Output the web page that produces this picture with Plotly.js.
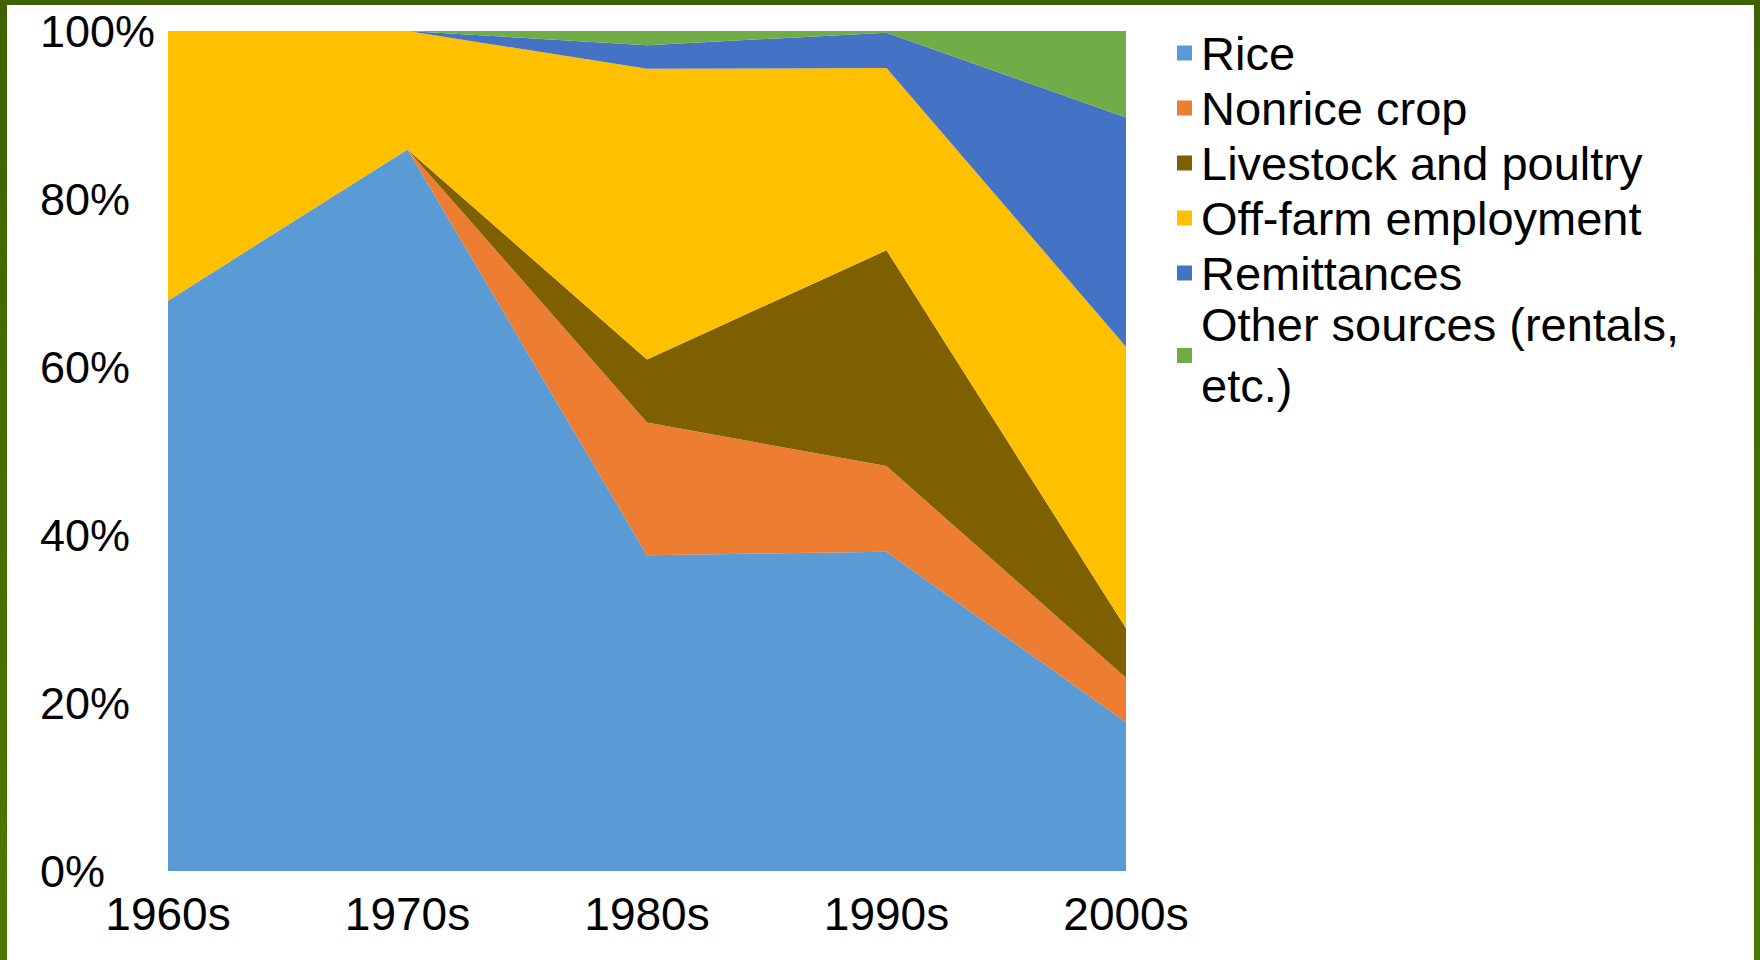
<!DOCTYPE html>
<html>
<head>
<meta charset="utf-8">
<script src="https://cdn.plot.ly/plotly-3.0.1.min.js"></script>
<style>
  html, body { margin: 0; padding: 0; background: #ffffff; overflow: hidden; }
  #wrap { position: relative; width: 1760px; height: 960px; }
  #chart { position: absolute; left: 0; top: 0; width: 1760px; height: 960px; }
  .frame { position: absolute; pointer-events: none; }
  #frameTop { left: 0; top: 0; width: 1760px; height: 5px; background: #3f6300; }
  #frameLeft { left: 0; top: 0; width: 7px; height: 960px; background: linear-gradient(#3f6300, #4d7800); }
  #frameRight { right: 0; top: 0; width: 6px; height: 960px; background: linear-gradient(#3f6300, #4d7800); }
</style>
</head>
<body>
<div id="wrap">
  <div id="chart"></div>
  <div class="frame" id="frameTop"></div>
  <div class="frame" id="frameLeft"></div>
  <div class="frame" id="frameRight"></div>
</div>
<script>
// Share of household income by source, per decade (percent)
const decades = ['1960s', '1970s', '1980s', '1990s', '2000s'];
const rice        = [67.9, 85.9, 37.6, 38.0, 17.7];
const nonrice     = [0.0,  0.0,  15.8, 10.2, 5.3];
const livestock   = [0.0,  0.0,  7.5,  25.7, 5.9];
const offFarm     = [32.1, 14.1, 34.6, 21.7, 33.5];
const remittances = [0.0,  0.0,  2.8,  4.2,  27.3];
const other       = [0.0,  0.0,  1.7,  0.2,  10.3];

const seriesNames = ['Rice', 'Nonrice crop', 'Livestock and poultry', 'Off-farm employment',
                     'Remittances', 'Other sources (rentals,<br>etc.)'];
const seriesValues = [rice, nonrice, livestock, offFarm, remittances, other];
const seriesColors = ['#5B9BD5', '#ED7D31', '#7F6000', '#FFC000', '#4472C4', '#70AD47'];

const yTickValues = [0, 20, 40, 60, 80, 100];
const yTickLabels = ['0%', '20%', '40%', '60%', '80%', '100%'];

const FONT = 'Liberation Sans, Arial, sans-serif';

// Stacked areas, bottom to top
const traces = seriesValues.map((vals, i) => ({
  type: 'scatter',
  x: decades,
  y: vals,
  name: seriesNames[i],
  stackgroup: 'income',
  mode: 'none',
  fillcolor: seriesColors[i],
  line: { width: 0, color: seriesColors[i] },
  hoverinfo: 'skip',
  showlegend: false
}));

const W = 1760, H = 960;
const margin = { l: 168, r: 634, t: 31, b: 89 };
const plotW = W - margin.l - margin.r;
const plotH = H - margin.t - margin.b;

// Left-aligned percentage labels along the value axis
const annotations = yTickValues.map((v, i) => ({
  xref: 'paper', yref: 'y',
  x: (38 - margin.l) / plotW, y: v,
  xanchor: 'left', yanchor: 'middle',
  text: yTickLabels[i],
  showarrow: false,
  font: { family: FONT, size: 45, color: '#000000' }
}));

// Legend: square key plus label for each series
const shapes = [];
const legendTop = 53, legendStep = 55;
seriesNames.forEach((name, i) => {
  const lines = name.split('<br>').length;
  const cy = legendTop + legendStep * i + (lines - 1) * legendStep / 2;
  const py = (H - margin.b - cy) / plotH;
  const half = 7.5 / plotH;
  shapes.push({
    type: 'rect', xref: 'paper', yref: 'paper',
    x0: (1177 - margin.l) / plotW, x1: (1192 - margin.l) / plotW,
    y0: py - half, y1: py + half,
    fillcolor: seriesColors[i], line: { width: 0 }
  });
  annotations.push({
    xref: 'paper', yref: 'paper',
    x: (1199 - margin.l) / plotW, y: py,
    xanchor: 'left', yanchor: 'middle', align: 'left',
    text: name, showarrow: false,
    font: { family: FONT, size: 47, color: '#000000' }
  });
});

const layout = {
  width: W, height: H,
  margin: margin,
  paper_bgcolor: '#ffffff',
  plot_bgcolor: '#ffffff',
  showlegend: false,
  xaxis: {
    type: 'category',
    range: [0, decades.length - 1],
    showgrid: false, zeroline: false, showline: false,
    ticks: '',
    tickfont: { family: FONT, size: 46, color: '#000000' },
    ticklabelstandoff: 12
  },
  yaxis: {
    range: [0, 100],
    showgrid: false, zeroline: false, showline: false,
    ticks: '', showticklabels: false
  },
  annotations: annotations,
  shapes: shapes
};

Plotly.newPlot('chart', traces, layout, { staticPlot: true, displayModeBar: false });
</script>
</body>
</html>
